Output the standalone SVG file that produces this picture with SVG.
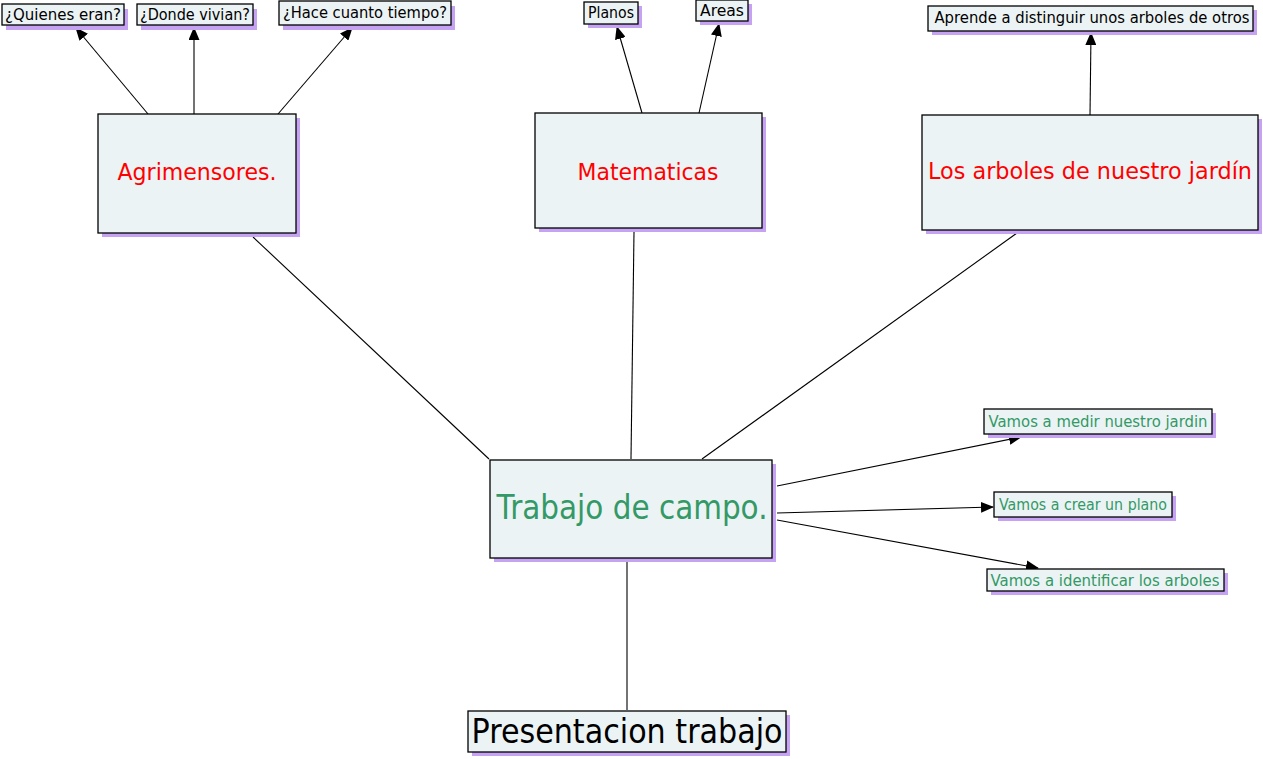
<svg xmlns="http://www.w3.org/2000/svg" width="1263" height="759" viewBox="0 0 1263 759">
<defs>
<marker id="ah" markerWidth="13" markerHeight="11" refX="12" refY="5.5" orient="auto" markerUnits="userSpaceOnUse">
<path d="M0,0 L13,5.5 L0,11 Z" fill="#000"/>
</marker>
<style>
.sh{fill:#c6a2f2}
.bx{fill:#ecf3f4;stroke:#000;stroke-width:1.3}
.t{font-family:"Comic Sans MS","DejaVu Sans","Noto Sans",sans-serif;text-anchor:middle}
.s{font-size:15.5px;fill:#000}
.r{font-size:23.5px;fill:#ff0000}
.g{fill:#339966}
.c{stroke:#000;stroke-width:1.1;fill:none}
.a{marker-end:url(#ah)}
</style>
</defs>
<rect width="1263" height="759" fill="#fff"/>
<g id="connectors">
<line class="c a" x1="148" y1="114" x2="76" y2="28"/>
<line class="c a" x1="194" y1="114" x2="194" y2="28"/>
<line class="c a" x1="278" y1="114" x2="352" y2="28"/>
<line class="c a" x1="642" y1="113" x2="617" y2="27"/>
<line class="c a" x1="699" y1="113" x2="719" y2="24"/>
<line class="c a" x1="1090" y1="115" x2="1091" y2="33"/>
<line class="c" x1="253" y1="237" x2="489" y2="459"/>
<line class="c" x1="634" y1="232" x2="631" y2="459"/>
<line class="c" x1="1017" y1="233" x2="702" y2="459"/>
<line class="c" x1="627" y1="562" x2="627" y2="710"/>
<line class="c a" x1="777" y1="486" x2="1021" y2="437"/>
<line class="c a" x1="777" y1="513" x2="993" y2="507"/>
<line class="c a" x1="777" y1="520" x2="1038" y2="568"/>
</g>
<g id="n-quienes">
<rect class="sh" x="6" y="9" width="122" height="21"/>
<rect class="bx" x="2" y="4" width="122" height="21"/>
<text class="t s" x="63" y="20" textLength="116" lengthAdjust="spacingAndGlyphs">¿Quienes eran?</text>
</g>
<g id="n-donde">
<rect class="sh" x="141" y="9" width="116" height="21"/>
<rect class="bx" x="137" y="4" width="116" height="21"/>
<text class="t s" x="195" y="20" textLength="110" lengthAdjust="spacingAndGlyphs">¿Donde vivian?</text>
</g>
<g id="n-hace">
<rect class="sh" x="283" y="6" width="172" height="24"/>
<rect class="bx" x="279" y="1" width="172" height="24"/>
<text class="t s" x="365" y="18" textLength="164" lengthAdjust="spacingAndGlyphs">¿Hace cuanto tiempo?</text>
</g>
<g id="n-agrimensores">
<rect class="sh" x="102" y="118" width="198" height="119"/>
<rect class="bx" x="98" y="114" width="198" height="119"/>
<text class="t r" x="197" y="180" textLength="159" lengthAdjust="spacingAndGlyphs">Agrimensores.</text>
</g>
<g id="n-planos">
<rect class="sh" x="588" y="6" width="54" height="22"/>
<rect class="bx" x="584" y="2" width="54" height="22"/>
<text class="t s" x="611" y="18" textLength="46" lengthAdjust="spacingAndGlyphs">Planos</text>
</g>
<g id="n-areas">
<rect class="sh" x="700" y="4" width="52" height="21"/>
<rect class="bx" x="696" y="0" width="52" height="21"/>
<text class="t s" x="722" y="16" textLength="44" lengthAdjust="spacingAndGlyphs">Areas</text>
</g>
<g id="n-matematicas">
<rect class="sh" x="539" y="117" width="227" height="115"/>
<rect class="bx" x="535" y="113" width="227" height="115"/>
<text class="t r" x="648" y="180" textLength="141" lengthAdjust="spacingAndGlyphs">Matematicas</text>
</g>
<g id="n-aprende">
<rect class="sh" x="932" y="10" width="325" height="25"/>
<rect class="bx" x="928" y="6" width="325" height="25"/>
<text class="t s" x="1092" y="23" textLength="315" lengthAdjust="spacingAndGlyphs">Aprende a distinguir unos arboles de otros</text>
</g>
<g id="n-arboles">
<rect class="sh" x="926" y="119" width="336" height="115"/>
<rect class="bx" x="922" y="115" width="336" height="115"/>
<text class="t r" x="1090" y="179" textLength="324" lengthAdjust="spacingAndGlyphs">Los arboles de nuestro jardín</text>
</g>
<g id="n-trabajo">
<rect class="sh" x="494" y="464" width="282" height="98"/>
<rect class="bx" x="490" y="460" width="282" height="98"/>
<text class="t g" x="632" y="519" font-size="34" textLength="271" lengthAdjust="spacingAndGlyphs">Trabajo de campo.</text>
</g>
<g id="n-medir">
<rect class="sh" x="988" y="413" width="228" height="25"/>
<rect class="bx" x="984" y="409" width="228" height="25"/>
<text class="t g" x="1098" y="427" font-size="15.5" textLength="219" lengthAdjust="spacingAndGlyphs">Vamos a medir nuestro jardin</text>
</g>
<g id="n-crear">
<rect class="sh" x="998" y="496" width="178" height="25"/>
<rect class="bx" x="994" y="492" width="178" height="25"/>
<text class="t g" x="1083" y="510" font-size="15.5" textLength="168" lengthAdjust="spacingAndGlyphs">Vamos a crear un plano</text>
</g>
<g id="n-identificar">
<rect class="sh" x="991" y="573" width="237" height="22"/>
<rect class="bx" x="987" y="569" width="237" height="22"/>
<text class="t g" x="1105" y="586" font-size="15.5" textLength="229" lengthAdjust="spacingAndGlyphs">Vamos a identificar los arboles</text>
</g>
<g id="n-presentacion">
<rect class="sh" x="472" y="715" width="318" height="41"/>
<rect class="bx" x="468" y="711" width="318" height="41"/>
<text class="t" x="627" y="743" font-size="34" fill="#000" textLength="311" lengthAdjust="spacingAndGlyphs">Presentacion trabajo</text>
</g>
</svg>
